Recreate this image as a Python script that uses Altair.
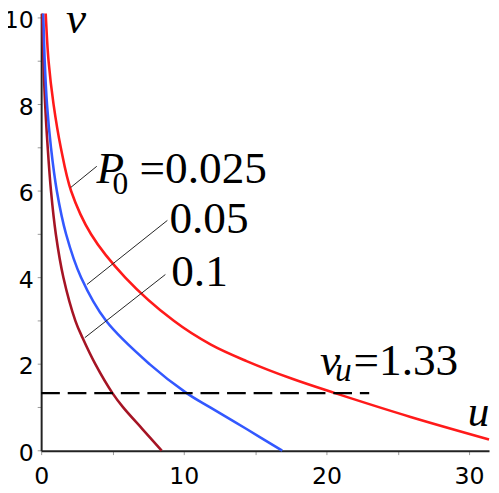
import altair as alt
import pandas as pd

# Curve readings (u, v) for each P0
p1_u = [0.07, 0.16, 0.28, 0.46, 0.69, 1.03, 1.56, 2.4, 2.9, 3.8, 5.0, 5.75, 7.1, 8.45]
p1_v = [10.1, 9.0, 8.0, 7.0, 6.0, 5.0, 4.0, 3.0, 2.61, 2.0, 1.33, 1.0, 0.5, 0.0]

p05_u = [0.15, 0.25, 0.41, 0.69, 1.1, 1.75, 2.8, 4.55, 7.6, 10.2, 11.85, 14.4, 16.9]
p05_v = [10.1, 9.0, 8.0, 7.0, 6.0, 5.0, 4.0, 3.0, 2.0, 1.33, 1.0, 0.5, 0.0]

p025_u = [0.32, 0.52, 0.87, 1.38, 2.1, 3.5, 5.9, 9.3, 11.9, 14.4, 17.6, 20.6, 25.9, 31.4]
p025_v = [10.1, 9.0, 8.0, 7.0, 6.0, 5.0, 4.0, 3.0, 2.45, 2.07, 1.66, 1.33, 0.78, 0.26]

series_names = ["0.1", "0.05", "0.025"]
series_colors = ["#a51424", "#3358ff", "#ff1a1a"]

# Threshold
vu_value = 1.33
vu_u_end = 23.0

# Leader lines (from curve to label)
lead_u1 = [2.07, 3.21, 3.06]
lead_v1 = [6.08, 3.84, 2.61]
lead_u2 = [3.9, 8.85, 8.71]
lead_v2 = [6.57, 5.32, 4.07]

# Annotation texts
up_text = ["0", "=0.025", "0.05", "0.1", "=1.33"]
up_u = [5.0, 6.90, 8.99, 9.12, 21.90]
up_v = [5.93, 6.18, 5.02, 3.80, 1.75]
up_size = [32, 46, 46, 46, 46]

it_text = ["P", "v", "u", "u", "v"]
it_u = [3.88, 19.55, 20.60, 29.90, 1.75]
it_v = [6.18, 1.75, 1.62, 0.57, 9.64]
it_size = [46, 46, 34, 44, 46]

x_ticks = [0, 5, 10, 15, 20, 25, 30]
y_ticks = [0, 1, 2, 3, 4, 5, 6, 7, 8, 9, 10]

rows = []
for name, us, vs in zip(series_names, [p1_u, p05_u, p025_u], [p1_v, p05_v, p025_v]):
    for i, (u, v) in enumerate(zip(us, vs)):
        rows.append({"P0": name, "u": u, "v": v, "o": i})
curves = pd.DataFrame(rows)

xs = alt.Scale(domain=[0, 31.4], nice=False, zero=False)
ys = alt.Scale(domain=[0, 10.1], nice=False, zero=False)

x_axis = alt.Axis(values=x_ticks, labelExpr="datum.value % 10 == 0 ? datum.label : ''",
                  title=None, grid=False, tickSize=4, tickColor="#999999",
                  domainColor="#222222", domainWidth=2, labelFont="DejaVu Sans",
                  labelFontSize=24, labelColor="#000000", labelPadding=10, labelFlush=False)
y_axis = alt.Axis(values=y_ticks, labelExpr="datum.value % 2 == 0 ? datum.label : ''",
                  title=None, grid=False, tickSize=4, tickColor="#999999",
                  domainColor="#222222", domainWidth=2, labelFont="DejaVu Sans",
                  labelFontSize=24, labelColor="#000000", labelPadding=4, labelOffset=3,
                  labelFlush=False)

X = lambda f: alt.X(f, scale=xs, axis=x_axis)
Y = lambda f: alt.Y(f, scale=ys, axis=y_axis)

lines = alt.Chart(curves).mark_line(strokeWidth=2.6, interpolate="catmull-rom").encode(
    x=X("u:Q"),
    y=Y("v:Q"),
    color=alt.Color("P0:N", scale=alt.Scale(domain=series_names, range=series_colors), legend=None),
    order="o:Q",
)

dash = alt.Chart(pd.DataFrame({"u1": [0.0], "u2": [vu_u_end], "v": [vu_value]})).mark_rule(
    color="#000000", strokeWidth=2.4, strokeDash=[19, 8]
).encode(
    x=X("u1:Q"),
    x2="u2:Q",
    y=Y("v:Q"),
)

leaders = alt.Chart(pd.DataFrame({"u1": lead_u1, "v1": lead_v1, "u2": lead_u2, "v2": lead_v2})).mark_rule(
    color="#222222", strokeWidth=1
).encode(
    x=X("u1:Q"),
    y=Y("v1:Q"),
    x2="u2:Q",
    y2="v2:Q",
)

upright = alt.Chart(pd.DataFrame({"t": up_text, "u": up_u, "v": up_v, "s": up_size})).mark_text(
    font="Liberation Serif", align="left", baseline="alphabetic", color="#000000"
).encode(
    x=X("u:Q"),
    y=Y("v:Q"),
    text="t:N",
    size=alt.Size("s:Q", scale=None, legend=None),
)

italic = alt.Chart(pd.DataFrame({"t": it_text, "u": it_u, "v": it_v, "s": it_size})).mark_text(
    font="Liberation Serif", fontStyle="italic", align="left", baseline="alphabetic", color="#000000"
).encode(
    x=X("u:Q"),
    y=Y("v:Q"),
    text="t:N",
    size=alt.Size("s:Q", scale=None, legend=None),
)

chart = alt.layer(lines, dash, leaders, upright, italic).properties(
    width=455.3,
    height=444.4,
    padding={"left": 33.7, "top": 1.6, "right": 2, "bottom": 37},
    autosize=alt.AutoSizeParams(type="none"),
).configure_view(stroke=None)

chart.save("out.html", embed_options={"renderer": "svg", "actions": False})
